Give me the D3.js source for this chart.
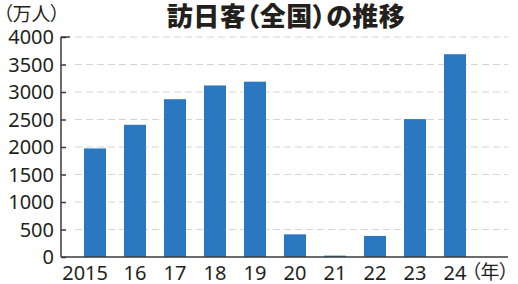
<!DOCTYPE html>
<html>
<head>
<meta charset="utf-8">
<script src="https://cdn.jsdelivr.net/npm/d3@7"></script>
<style>
  html, body { margin: 0; padding: 0; background: #fff; }
  svg { display: block; }
  .cjk { font-family: 'Noto Sans CJK JP', sans-serif; font-feature-settings: "palt"; }
</style>
</head>
<body>
<div class="display__svg"></div>
<script>
// data
const years = ["2015", "16", "17", "18", "19", "20", "21", "22", "23", "24"];
const visitors = [1974, 2404, 2869, 3119, 3188, 412, 25, 383, 2507, 3687];
const yTicks = [0, 500, 1000, 1500, 2000, 2500, 3000, 3500, 4000];

const titleText = "訪日客（全国）の推移";
const unitText = "（万人）";
const yearText = "（年）";

const width = 518, height = 284;
const margin = { top: 37, right: 10, bottom: 27, left: 61 };
const innerHeight = height - margin.top - margin.bottom;

const ink = "#231f1c";
const numFont = "'Noto Sans', sans-serif";

const svg = d3.select(".display__svg")
  .append("svg")
  .attr("width", width)
  .attr("height", height);

//scales
const xScale = d3.scaleBand()
  .domain(years)
  .range([75, 475])
  .paddingInner(0.45)
  .paddingOuter(0.225);

const yScale = d3.scaleLinear()
  .domain([0, 4000])
  .range([margin.top + innerHeight, margin.top]);

//dashed grid lines
svg.append("g")
  .selectAll("line")
  .data(yTicks.filter(d => d > 0))
  .enter()
  .append("line")
  .attr("x1", 75)
  .attr("x2", 508)
  .attr("y1", d => yScale(d))
  .attr("y2", d => yScale(d))
  .attr("stroke", "#d4d4d4")
  .attr("stroke-width", 1)
  .attr("stroke-dasharray", "7,4");

//bars
svg.append("g")
  .selectAll("rect")
  .data(years)
  .enter()
  .append("rect")
  .attr("x", d => xScale(d))
  .attr("width", xScale.bandwidth())
  .attr("y", (d, i) => yScale(visitors[i]))
  .attr("height", (d, i) => yScale(0) - yScale(visitors[i]))
  .attr("fill", "#2a78c0");

//y axis, ticks pointing inward
const yaxis = d3.axisRight(yScale)
  .tickValues(yTicks)
  .tickSize(5)
  .tickFormat("");

const yg = svg.append("g")
  .attr("transform", `translate(${margin.left},0)`)
  .call(yaxis);
yg.select(".domain").remove();
yg.selectAll("line").attr("stroke", "#3a3a3a").attr("stroke-width", 1.5);
yg.append("line")
  .attr("y1", yScale(4000))
  .attr("y2", yScale(0))
  .attr("stroke", "#3a3a3a")
  .attr("stroke-width", 1.5);
yg.append("line")
  .attr("x1", 0)
  .attr("x2", 9)
  .attr("y1", yScale(4000))
  .attr("y2", yScale(4000))
  .attr("stroke", "#3a3a3a")
  .attr("stroke-width", 1.5);

//y tick labels
svg.append("g")
  .selectAll("text")
  .data(yTicks)
  .enter()
  .append("text")
  .attr("x", 54)
  .attr("y", d => yScale(d))
  .attr("dy", "0.36em")
  .attr("text-anchor", "end")
  .style("font-family", numFont)
  .style("font-size", "20px")
  .style("fill", ink)
  .text(d => d);

//baseline
svg.append("line")
  .attr("x1", margin.left)
  .attr("x2", 508)
  .attr("y1", yScale(0))
  .attr("y2", yScale(0))
  .attr("stroke", "#3a3a3a")
  .attr("stroke-width", 1.5);

//x labels (the first one hangs to the left of its bar)
svg.append("g")
  .selectAll("text")
  .data(years)
  .enter()
  .append("text")
  .attr("x", (d, i) => i === 0 ? xScale(d) + xScale.bandwidth() + 2 : xScale(d) + xScale.bandwidth() / 2)
  .attr("y", 280)
  .attr("text-anchor", (d, i) => i === 0 ? "end" : "middle")
  .style("font-family", numFont)
  .style("font-size", "20px")
  .style("fill", ink)
  .text(d => d);

svg.append("text")
  .attr("class", "cjk")
  .attr("x", 509)
  .attr("y", 279)
  .attr("text-anchor", "end")
  .style("font-size", "19px")
  .style("fill", ink)
  .text(yearText);

//unit label
svg.append("text")
  .attr("class", "cjk")
  .attr("x", 3)
  .attr("y", 21)
  .style("font-size", "19px")
  .style("fill", ink)
  .text(unitText);

//title
svg.append("text")
  .attr("class", "cjk")
  .attr("x", 286)
  .attr("y", 26)
  .attr("text-anchor", "middle")
  .style("font-size", "26px")
  .style("font-weight", "900")
  .style("letter-spacing", "0.5px")
  .style("fill", ink)
  .text(titleText);
</script>
</body>
</html>
